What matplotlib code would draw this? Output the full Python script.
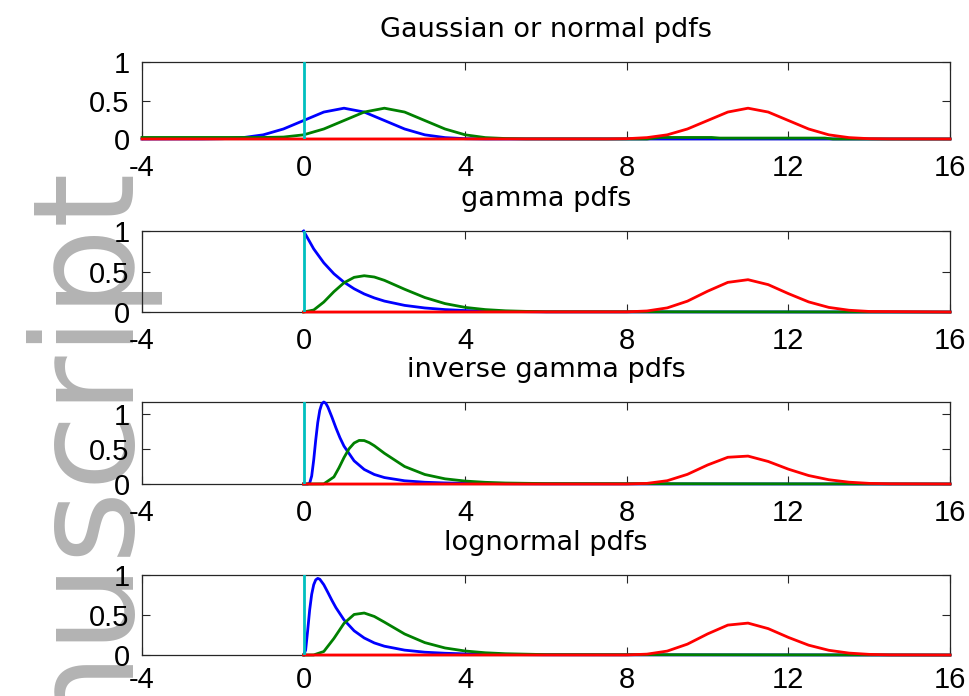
import matplotlib
matplotlib.use("Agg")
import matplotlib.pyplot as plt

plt.rcParams['font.family'] = ['Liberation Sans', 'DejaVu Sans']

# shared x range / ticks
x_ticks = [-4, 0, 4, 8, 12, 16]
y_ticks = [0, 0.5, 1]
y_tick_labels = ["0", "0.5", "1"]

titles = ["Gaussian or normal pdfs", "gamma pdfs", "inverse gamma pdfs", "lognormal pdfs"]
y_tops = [1.0, 1.0, 1.172, 1.0]

# --- Gaussian / normal ---
norm_blue_x = [-4, -2.5, -2, -1.5, -1, -0.5, 0, 0.5, 1, 1.5, 2, 2.5, 3, 3.5, 4, 4.5, 16]
norm_blue_y = [0, 0.001, 0.004, 0.018, 0.054, 0.13, 0.24, 0.35, 0.40, 0.35, 0.24, 0.13, 0.054, 0.018, 0.004, 0.001, 0]
norm_green_x = [-4, -1, -0.5, 0, 0.5, 1, 1.5, 2, 2.5, 3, 3.5, 4, 4.5, 5, 5.5, 8.5, 8.8, 10.1, 10.3, 12.9, 13.1, 16]
norm_green_y = [0.02, 0.02, 0.025, 0.054, 0.13, 0.24, 0.35, 0.40, 0.35, 0.24, 0.13, 0.054, 0.018, 0.006, 0.002,
                0, 0.02, 0.02, 0.012, 0.012, 0, 0]
norm_red_x = [-4, 7.5, 8, 8.5, 9, 9.5, 10, 10.5, 11, 11.5, 12, 12.5, 13, 13.5, 14, 14.5, 16]
norm_red_y = [0, 0.001, 0.004, 0.018, 0.054, 0.13, 0.24, 0.35, 0.40, 0.35, 0.24, 0.13, 0.054, 0.018, 0.004, 0.001, 0]

# --- gamma ---
gam_blue_x = [0, 0.25, 0.5, 0.75, 1, 1.25, 1.5, 1.75, 2, 2.5, 3, 3.5, 4, 4.5, 5, 6, 16]
gam_blue_y = [1.0, 0.779, 0.607, 0.472, 0.368, 0.287, 0.223, 0.174, 0.135, 0.082, 0.050, 0.030, 0.018, 0.011,
              0.007, 0.002, 0]
gam_green_x = [0, 0.25, 0.5, 0.75, 1, 1.25, 1.5, 1.75, 2, 2.5, 3, 3.5, 4, 4.5, 5, 5.5, 6, 16]
gam_green_y = [0, 0.025, 0.123, 0.251, 0.361, 0.428, 0.448, 0.432, 0.391, 0.281, 0.179, 0.104, 0.057, 0.030,
               0.015, 0.008, 0.004, 0]
gam_red_x = [0, 8, 8.5, 9, 9.5, 10, 10.5, 11, 11.5, 12, 12.5, 13, 13.5, 14, 16]
gam_red_y = [0, 0.002, 0.013, 0.051, 0.134, 0.257, 0.366, 0.399, 0.338, 0.227, 0.125, 0.057, 0.022, 0.007, 0]

# --- inverse gamma ---
igam_blue_x = [0, 0.1, 0.15, 0.2, 0.25, 0.3, 0.35, 0.4, 0.45, 0.5, 0.55, 0.6, 0.7, 0.8, 0.9, 1, 1.25, 1.5,
               1.75, 2, 2.5, 3, 3.5, 4, 5, 6, 16]
igam_blue_y = [0, 0.0001, 0.013, 0.114, 0.344, 0.629, 0.879, 1.053, 1.146, 1.172, 1.153, 1.101, 0.957, 0.802,
               0.661, 0.541, 0.331, 0.208, 0.136, 0.092, 0.046, 0.025, 0.015, 0.0095, 0.004, 0.002, 0]
igam_green_x = [0, 0.5, 0.75, 0.875, 1, 1.125, 1.25, 1.375, 1.5, 1.625, 1.75, 2, 2.5, 3, 3.5, 4, 4.5, 5, 6, 16]
igam_green_y = [0, 0.002, 0.101, 0.231, 0.378, 0.504, 0.586, 0.623, 0.621, 0.591, 0.547, 0.439, 0.250, 0.136,
                0.074, 0.042, 0.024, 0.014, 0.006, 0]
igam_red_x = [0, 8, 8.5, 9, 9.5, 10, 10.5, 11, 11.5, 12, 12.5, 13, 13.5, 14, 14.5, 16]
igam_red_y = [0, 0, 0.009, 0.047, 0.138, 0.272, 0.382, 0.399, 0.322, 0.212, 0.121, 0.061, 0.026, 0.009, 0.003, 0]

# --- lognormal ---
logn_blue_x = [0, 0.05, 0.1, 0.15, 0.2, 0.25, 0.3, 0.35, 0.4, 0.5, 0.6, 0.7, 0.8, 1, 1.25, 1.5, 1.75, 2, 2.5,
               3, 3.5, 4, 5, 6, 16]
logn_blue_y = [0, 0.061, 0.303, 0.564, 0.759, 0.879, 0.940, 0.958, 0.948, 0.879, 0.783, 0.684, 0.592, 0.439,
               0.303, 0.213, 0.151, 0.110, 0.061, 0.035, 0.022, 0.014, 0.006, 0.003, 0]
logn_green_x = [0, 0.25, 0.5, 0.75, 1, 1.25, 1.5, 1.75, 2, 2.5, 3, 3.5, 4, 4.5, 5, 6, 16]
logn_green_y = [0, 0.001, 0.044, 0.207, 0.396, 0.507, 0.525, 0.482, 0.411, 0.263, 0.155, 0.088, 0.050, 0.028,
                0.016, 0.005, 0]
logn_red_x = [0, 8, 8.5, 9, 9.5, 10, 10.5, 11, 11.5, 12, 12.5, 13, 13.5, 14, 14.5, 16]
logn_red_y = [0, 0.001, 0.011, 0.049, 0.136, 0.264, 0.374, 0.399, 0.330, 0.220, 0.123, 0.059, 0.024, 0.008,
              0.002, 0]

panels = [
    (norm_blue_x, norm_blue_y, norm_green_x, norm_green_y, norm_red_x, norm_red_y),
    (gam_blue_x, gam_blue_y, gam_green_x, gam_green_y, gam_red_x, gam_red_y),
    (igam_blue_x, igam_blue_y, igam_green_x, igam_green_y, igam_red_x, igam_red_y),
    (logn_blue_x, logn_blue_y, logn_green_x, logn_green_y, logn_red_x, logn_red_y),
]

# axes boxes in figure fractions [left, bottom, width, height]
boxes = [
    [0.1464, 0.8003, 0.833, 0.1106],
    [0.1464, 0.5517, 0.833, 0.1164],
    [0.1464, 0.3046, 0.833, 0.1178],
    [0.1464, 0.0589, 0.833, 0.1149],
]
x_pads = [11, 11, 11, 8]

fig = plt.figure(figsize=(9.7, 6.96), dpi=100)
fig.patch.set_facecolor('white')

# grey watermark running up the left margin
fig.text(120 / 970, 1 - 158 / 696, "Manuscript", rotation=90, rotation_mode='anchor',
         ha='right', va='baseline', fontsize=101, color='#b3b3b3', zorder=-1,
         family='DejaVu Sans')

for k in range(4):
    bx, by, gx, gy, rx, ry = panels[k]
    ax = fig.add_axes(boxes[k])
    ax.patch.set_alpha(0)
    lw = 2.0
    ax.plot(bx, by, color=(0, 0, 1), lw=lw, clip_on=False, zorder=3)
    ax.plot(gx, gy, color=(0, 0.5, 0), lw=lw, clip_on=False, zorder=3)
    ax.plot(rx, ry, color=(1, 0, 0), lw=lw, clip_on=False, zorder=3)
    ax.axvline(0, color=(0, 0.75, 0.75), lw=2.0, zorder=4)

    ax.set_xlim(-4, 16)
    ax.set_ylim(0, y_tops[k])
    ax.set_xticks(x_ticks)
    ax.set_xticklabels([str(t) for t in x_ticks])
    ax.set_yticks(y_ticks)
    ax.set_yticklabels(y_tick_labels)
    ax.tick_params(axis='x', direction='in', length=5.8, width=0.8, top=True, labelsize=21, pad=x_pads[k],
                   color='#262626')
    ax.tick_params(axis='y', direction='in', length=5.8, width=0.8, right=True, labelsize=21, pad=9,
                   color='#262626')
    for s in ax.spines.values():
        s.set_linewidth(0.9)
        s.set_color('#262626')
    ax.set_title(titles[k], fontsize=19.5, pad=18, family='DejaVu Sans')

fig.savefig("out.png", dpi=100)
